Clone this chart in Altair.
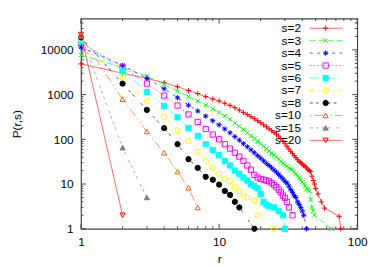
import altair as alt
import pandas as pd

FONT = "Liberation Sans"
W, H = 280, 213

labels = ["s=2", "s=3", "s=4", "s=5", "s=6", "s=7", "s=8", "s=10", "s=15", "s=20"]
colors = ["#ff0000", "#00ff00", "#0000ff", "#ff00ff", "#00ffff", "#ffff00",
          "#000000", "#ff5a10", "#808080", "#ff0000"]
fills = ["transparent", "transparent", "transparent", "transparent", "#00ffff",
         "transparent", "#000000", "transparent", "#808080", "transparent"]
shapes = ["M-1,0L1,0M0,-1L0,1",
          "M-0.8,-0.8L0.8,0.8M-0.8,0.8L0.8,-0.8",
          "M-1,0L1,0M0,-1L0,1M-0.7,-0.7L0.7,0.7M-0.7,0.7L0.7,-0.7",
          "square", "square", "circle", "circle",
          "triangle-up", "triangle-up", "triangle-down"]
dashes = [[1, 0], [6, 3], [3, 4.5], [1.5, 2.25], [9, 3, 1.5, 3], [4.5, 4.5, 1.5, 4.5],
          [3, 3, 3, 9], [1.5, 3, 9, 3, 1.5, 3], [3, 3, 3, 3, 3, 3, 3, 6], [1, 0]]

r_s2 = list(range(1, 51)) + [52, 55, 58, 74, 76]
p_s2 = [4860, 3000, 2300, 1850, 1500, 1230, 1050, 900, 800, 720,
        640, 570, 510, 450, 400, 360, 320, 290, 260, 235,
        210, 190, 172, 156, 143, 131, 118, 105, 92, 80,
        70, 61, 54, 48, 43, 39, 35, 32, 30, 28,
        26, 25, 23, 21, 20, 19, 15, 12, 10, 8,
        6, 4, 2.9, 1.9, 1]

r_s3 = list(range(1, 50)) + [65]
p_s3 = [7700, 4000, 2600, 1700, 1200, 900, 720, 580, 480, 400,
        330, 280, 230, 195, 165, 140, 120, 105, 90, 80,
        70, 62, 55, 49, 44, 40, 36, 32, 29, 27,
        25, 23, 22, 21, 19, 17, 15, 14, 12.5, 11,
        10, 9, 8, 7.5, 7, 4.5, 3, 2.5, 2, 1]

r_s4 = list(range(1, 42)) + [43]
p_s4 = [11500, 4500, 2300, 1350, 850, 580, 430, 330, 260, 210,
        170, 140, 115, 96, 80, 68, 58, 50, 43, 38,
        33, 29, 26, 23, 20.5, 18.5, 16.5, 14.5, 13, 11.5,
        10.5, 9, 7.5, 6.5, 5.5, 5, 4, 3.5, 3, 2.5,
        2, 1]

r_s5 = list(range(1, 33)) + [34]
p_s5 = [14100, 4200, 1760, 950, 570, 360, 245, 170, 128, 100,
        78, 62, 50, 41, 33, 26, 21, 16, 14, 13,
        12.5, 12, 11.5, 10.5, 9.5, 8.5, 7.5, 6.5, 5.5, 4.9,
        4, 3, 2]

r_s6 = list(range(1, 24)) + [25, 27, 29, 30]
p_s6 = [15600, 3350, 1150, 560, 310, 180, 120, 78, 58, 44,
        33, 26, 20, 17, 14, 12, 10, 9, 8, 6,
        4, 3.5, 3.2, 3, 2.5, 2, 1]

r_s7 = list(range(1, 17)) + [18, 19, 25]
p_s7 = [17300, 2470, 730, 320, 160, 92, 53, 33, 23, 17,
        13, 11.5, 8.5, 7, 5.5, 5, 4.2, 2, 1]

r_s8 = list(range(1, 15)) + [18]
p_s8 = [19000, 1760, 455, 178, 78, 36, 23, 14.5, 12.5, 9.7, 7, 5.7, 4, 3, 1]

r_s10 = [1, 2, 3, 4, 5, 6, 7]
p_s10 = [20000, 790, 150, 50, 19, 8.2, 3]

r_s15 = [1, 2, 3]
p_s15 = [21000, 65, 5]

r_s20 = [1, 2]
p_s20 = [22000, 2]

x_major = [1, 10, 100]
x_minor = [2, 3, 4, 5, 6, 7, 8, 9, 20, 30, 40, 50, 60, 70, 80, 90]
y_major = [1, 10, 100, 1000, 10000]
y_minor = [m * d for d in [1, 10, 100, 1000] for m in range(2, 10)] + [20000, 30000, 40000]

series = [r_s2, r_s3, r_s4, r_s5, r_s6, r_s7, r_s8, r_s10, r_s15, r_s20]
values = [p_s2, p_s3, p_s4, p_s5, p_s6, p_s7, p_s8, p_s10, p_s15, p_s20]
rows = []
for lab, rs, ps in zip(labels, series, values):
    for r, p in zip(rs, ps):
        rows.append({"s": lab, "r": r, "p": p})
df = pd.DataFrame(rows)


def xs():
    return alt.Scale(type="log", domain=[1, 100], nice=False)


def ys():
    return alt.Scale(type="log", domain=[1, 50000], nice=False)


def x_axis():
    return alt.Axis(values=x_major, format="d", title="r", labelFlush=False,
                    labelPadding=7.5, titleX=W / 2, titleY=30, titleBaseline="middle",
                    ticks=False, domain=False, grid=False)


stroke_enc = alt.Stroke("s:N", scale=alt.Scale(domain=labels, range=colors), legend=None)
fill_enc = alt.Fill("s:N", scale=alt.Scale(domain=labels, range=fills), legend=None)
shape_enc = alt.Shape("s:N", scale=alt.Scale(domain=labels, range=shapes), legend=None)
dash_enc = alt.StrokeDash("s:N", scale=alt.Scale(domain=labels, range=dashes), legend=None)

lines = alt.Chart(df).mark_line(strokeWidth=1, opacity=0.65).encode(
    x=alt.X("r:Q", scale=xs(), axis=x_axis()),
    y=alt.Y("p:Q", scale=ys(),
            axis=alt.Axis(values=y_major, format="d", title="P(r,s)", labelFlush=False,
                          labelPadding=8, titleAngle=270, titleX=-65, titleY=H / 2,
                          titleBaseline="middle", titleAlign="center",
                          ticks=False, domain=False, grid=False)),
    stroke=stroke_enc,
    strokeDash=dash_enc,
)

points = alt.Chart(df).mark_point(strokeWidth=1, size=28, opacity=1).encode(
    x=alt.X("r:Q", scale=xs(), axis=x_axis()),
    y=alt.Y("p:Q", scale=ys(), axis=None),
    stroke=stroke_enc,
    fill=fill_enc,
    shape=shape_enc,
)


def xticks(vals, L, top):
    c = alt.Chart(pd.DataFrame({"r": vals})).mark_rule(color="#444444", strokeWidth=1)
    if top:
        return c.encode(x=alt.X("r:Q", scale=xs(), axis=x_axis()), y=alt.value(0), y2=alt.value(L))
    return c.encode(x=alt.X("r:Q", scale=xs(), axis=x_axis()), y=alt.value(H), y2=alt.value(H - L))


def yticks(vals, L, right):
    c = alt.Chart(pd.DataFrame({"v": vals})).mark_rule(color="#444444", strokeWidth=1)
    if right:
        return c.encode(y=alt.Y("v:Q", scale=ys(), axis=None), x=alt.value(W), x2=alt.value(W - L))
    return c.encode(y=alt.Y("v:Q", scale=ys(), axis=None), x=alt.value(0), x2=alt.value(L))


tick_layers = [
    xticks(x_major, 5, False), xticks(x_minor, 2.5, False),
    xticks(x_major, 5, True), xticks(x_minor, 2.5, True),
    yticks(y_major, 5, False), yticks(y_minor, 2.5, False),
    yticks(y_major, 5, True), yticks(y_minor, 2.5, True),
]

leg = pd.DataFrame({"s": labels, "row": list(range(len(labels)))})


def ly():
    return alt.Y("row:Q", scale=alt.Scale(domain=[0, 9], range=[9.7, 123.4]), axis=None)


leg_text = alt.Chart(leg).mark_text(align="right", baseline="middle", font=FONT,
                                    fontSize=12, color="black").encode(
    x=alt.value(223), y=ly(), text="s:N")
leg_rule = alt.Chart(leg).mark_rule(strokeWidth=1, opacity=0.65).encode(
    x=alt.value(232), x2=alt.value(265), y=ly(), stroke=stroke_enc, strokeDash=dash_enc)
leg_pts = alt.Chart(leg).mark_point(strokeWidth=1, size=28, opacity=1).encode(
    x=alt.value(248), y=ly(), stroke=stroke_enc, fill=fill_enc, shape=shape_enc)

chart = alt.layer(lines, *tick_layers, points, leg_rule, leg_pts, leg_text).resolve_scale(
    y="independent"
).properties(
    width=W, height=H,
    padding={"left": 74, "top": 9, "right": 17, "bottom": 37},
    autosize=alt.AutoSizeParams(type="none"),
).configure_view(stroke="#444444", strokeWidth=1.2).configure_axis(
    labelFont=FONT, titleFont=FONT, labelFontSize=12, titleFontSize=12,
    labelColor="black", titleColor="black", titleFontWeight="normal",
)

chart.save("out.html", embed_options={"renderer": "svg", "actions": False})
